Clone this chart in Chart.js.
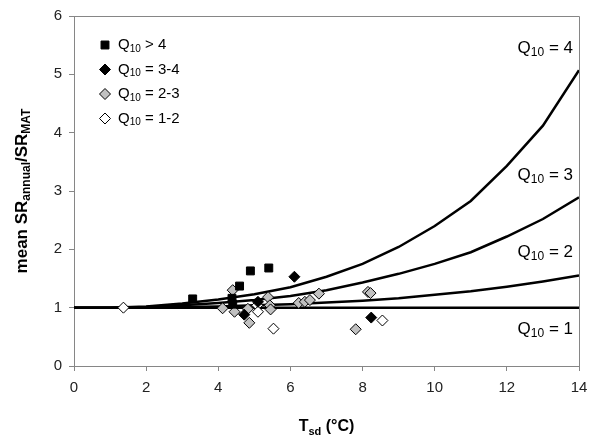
<!DOCTYPE html>
<html>
<head>
<meta charset="utf-8">
<script src="https://cdn.jsdelivr.net/npm/chart.js@4.4.0/dist/chart.umd.min.js"></script>
<style>
  html, body { margin: 0; padding: 0; background: #fff; }
  #wrap { width: 600px; height: 445px; }
</style>
</head>
<body>
<div id="wrap"><canvas id="chart" width="600" height="445"></canvas></div>
<script>
// model curves at each whole T_sd
const curveX = [0, 1, 2, 3, 4, 5, 6, 7, 8, 9, 10, 11, 12, 13, 14];
const q10_4 = [1.0, 1.0, 1.02, 1.07, 1.14, 1.23, 1.35, 1.53, 1.75, 2.04, 2.40, 2.83, 3.43, 4.12, 5.07];
const q10_3 = [1.0, 1.0, 1.01, 1.04, 1.08, 1.13, 1.20, 1.30, 1.43, 1.58, 1.75, 1.95, 2.22, 2.52, 2.89];
const q10_2 = [1.0, 1.0, 1.0, 1.01, 1.02, 1.04, 1.06, 1.09, 1.12, 1.16, 1.22, 1.28, 1.36, 1.45, 1.55];
const q10_1 = [1, 1, 1, 1, 1, 1, 1, 1, 1, 1, 1, 1, 1, 1, 1];

// site points [T_sd, ratio]
const sitesOver4 = [[3.29, 1.15], [4.38, 1.16], [4.40, 1.06], [4.59, 1.37], [4.89, 1.63], [5.40, 1.68]];
const sites3to4 = [[4.72, 0.88], [5.10, 1.10], [6.11, 1.53], [8.24, 0.83]];
const sites2to3 = [[4.12, 0.99], [4.40, 1.30], [4.45, 0.93], [4.82, 0.98], [4.86, 0.74], [5.38, 1.18],
                   [5.43, 1.04], [5.45, 0.97], [6.23, 1.08], [6.40, 1.10], [6.54, 1.13], [6.79, 1.24],
                   [7.81, 0.63], [8.15, 1.27], [8.22, 1.25]];
const sites1to2 = [[1.37, 1.0], [5.08, 1.04], [5.10, 0.93], [5.53, 0.64], [8.55, 0.78]];

const xTicks = [0, 2, 4, 6, 8, 10, 12, 14];
const yTicks = [0, 1, 2, 3, 4, 5, 6];

const FONT = '"Liberation Sans", Arial, sans-serif';
const AXIS_GREY = '#868686';

const toPts = arr => arr.map(p => ({ x: p[0], y: p[1] }));
const curve = ys => curveX.map((x, i) => ({ x: x, y: ys[i] }));

// text with subscript parts: parts = [[text, isSub], ...]
function richWidth(ctx, parts, size, bold) {
  let w = 0;
  parts.forEach(p => {
    ctx.font = (bold ? 'bold ' : '') + (p[1] ? Math.round(size * 0.68) : size) + 'px ' + FONT;
    w += ctx.measureText(p[0]).width;
  });
  return w;
}
function drawRich(ctx, parts, x, y, size, bold, align) {
  const w = richWidth(ctx, parts, size, bold);
  let cx = align === 'center' ? x - w / 2 : (align === 'right' ? x - w : x);
  ctx.textBaseline = 'middle';
  ctx.textAlign = 'left';
  parts.forEach(p => {
    const s = p[1] ? Math.round(size * 0.68) : size;
    ctx.font = (bold ? 'bold ' : '') + s + 'px ' + FONT;
    ctx.fillText(p[0], cx, p[1] ? y + size * 0.28 : y);
    cx += ctx.measureText(p[0]).width;
  });
}

const extras = {
  id: 'extras',
  beforeDatasetsDraw(chart) {
    const ctx = chart.ctx, a = chart.chartArea;
    ctx.save();
    ctx.strokeStyle = AXIS_GREY;
    ctx.lineWidth = 1;
    ctx.beginPath();
    ctx.moveTo(a.left, a.top + 0.5);
    ctx.lineTo(a.right + 0.5, a.top + 0.5);
    ctx.lineTo(a.right + 0.5, a.bottom);
    ctx.stroke();
    ctx.restore();
  },
  afterDraw(chart) {
    const ctx = chart.ctx, a = chart.chartArea;
    const ys = chart.scales.y;
    ctx.save();
    ctx.fillStyle = '#000';

    // curve labels
    const lab = [['4', 5.45], ['3', 3.27], ['2', 1.95], ['1', 0.63]];
    lab.forEach(l => {
      drawRich(ctx, [['Q', false], ['10', true], [' = ' + l[0], false]], a.right - 6, ys.getPixelForValue(l[1]), 17, false, 'right');
    });

    // legend
    const leg = [
      { t: ' > 4', style: 'rect', fill: '#000', r: 5.6 },
      { t: ' = 3-4', style: 'rectRot', fill: '#000', r: 5.5 },
      { t: ' = 2-3', style: 'rectRot', fill: '#c0c0c0', r: 5.5 },
      { t: ' = 1-2', style: 'rectRot', fill: '#fff', r: 5.5 }
    ];
    leg.forEach((l, i) => {
      const y = 45 + i * 24.5;
      ctx.fillStyle = l.fill;
      ctx.strokeStyle = '#000';
      ctx.lineWidth = 1;
      Chart.helpers.drawPoint(ctx, { pointStyle: l.style, rotation: 0, radius: l.r, borderWidth: 1 }, 105, y);
      ctx.fillStyle = '#000';
      drawRich(ctx, [['Q', false], ['10', true], [l.t, false]], 118, y, 15, false, 'left');
    });

    // axis titles
    drawRich(ctx, [['T', false], ['sd', true], [' (°C)', false]], (a.left + a.right) / 2, 427, 16, true, 'center');
    ctx.translate(22, (a.top + a.bottom) / 2);
    ctx.rotate(-Math.PI / 2);
    drawRich(ctx, [['mean SR', false], ['annual', true], ['/SR', false], ['MAT', true]], 0, 0, 17, true, 'center');
    ctx.restore();
  }
};

const lineSet = ys => ({
  type: 'scatter', data: curve(ys), showLine: true, borderColor: '#000', borderWidth: 2.5,
  pointRadius: 0, fill: false, tension: 0, order: 2
});
const markSet = (pts, style, fill, r) => ({
  type: 'scatter', data: toPts(pts), pointStyle: style, pointRadius: r, pointHoverRadius: r,
  backgroundColor: fill, borderColor: '#000', borderWidth: 1, showLine: false, order: 1
});

new Chart(document.getElementById('chart'), {
  type: 'scatter',
  data: {
    datasets: [
      markSet(sitesOver4, 'rect', '#000', 5.6),
      markSet(sites3to4, 'rectRot', '#000', 5.5),
      markSet(sites2to3, 'rectRot', '#c0c0c0', 5.5),
      markSet(sites1to2, 'rectRot', '#fff', 5.5),
      lineSet(q10_4),
      lineSet(q10_3),
      lineSet(q10_2),
      lineSet(q10_1)
    ]
  },
  options: {
    responsive: false,
    animation: false,
    layout: { padding: { top: 15, right: 21, left: 0, bottom: 0 } },
    plugins: { legend: { display: false }, tooltip: { enabled: false } },
    scales: {
      x: {
        type: 'linear', min: 0, max: 14,
        afterBuildTicks: s => { s.ticks = xTicks.map(v => ({ value: v })); },
        afterFit: s => { s.height = 79; },
        border: { color: AXIS_GREY, width: 1 },
        grid: { drawOnChartArea: false, drawTicks: true, tickLength: 5, color: AXIS_GREY },
        ticks: { font: { family: FONT, size: 15 }, color: '#222', padding: 8, maxRotation: 0 }
      },
      y: {
        type: 'linear', min: 0, max: 6,
        afterBuildTicks: s => { s.ticks = yTicks.map(v => ({ value: v })); },
        afterFit: s => { s.width = 74; },
        border: { color: AXIS_GREY, width: 1 },
        grid: { drawOnChartArea: false, drawTicks: true, tickLength: 5, color: AXIS_GREY },
        ticks: { font: { family: FONT, size: 15 }, color: '#222', padding: 7 }
      }
    }
  },
  plugins: [extras]
});
</script>
</body>
</html>
